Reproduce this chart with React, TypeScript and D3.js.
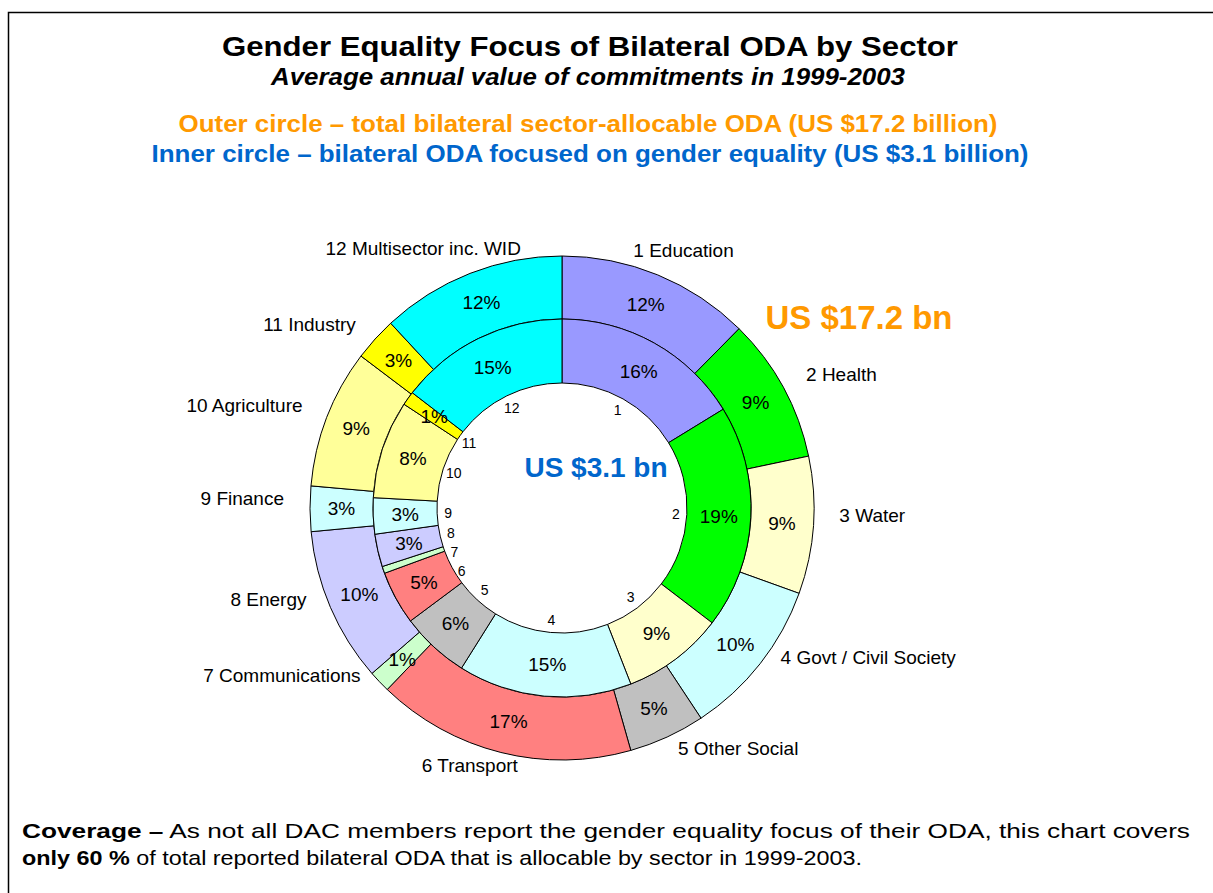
import React from "react";
import * as d3 from "d3";

// ---- Data ----
const sectorNumbers = ["1", "2", "3", "4", "5", "6", "7", "8", "9", "10", "11", "12"];
const sectorNames = [
  "Education",
  "Health",
  "Water",
  "Govt / Civil Society",
  "Other Social",
  "Transport",
  "Communications",
  "Energy",
  "Finance",
  "Agriculture",
  "Industry",
  "Multisector inc. WID",
];
// Outer circle: share of total bilateral sector-allocable ODA (%)
const totalOdaShare = [12.4, 9.3, 8.8, 10.2, 4.9, 16.6, 1.4, 9.9, 2.9, 8.9, 2.8, 11.9];
// Inner circle: share of bilateral ODA focused on gender equality (%)
const genderOdaShare = [16.3, 19.2, 8.7, 14.9, 5.9, 4.6, 0.6, 2.8, 3.1, 8.4, 1.2, 14.6];
const sectorColors = [
  "#9999FF",
  "#00FF00",
  "#FFFFCC",
  "#CCFFFF",
  "#C0C0C0",
  "#FF8080",
  "#CCFFCC",
  "#CCCCFF",
  "#CCFFFF",
  "#FFFF99",
  "#FFFF00",
  "#00FFFF",
];

const titleText = "Gender Equality Focus of Bilateral ODA by Sector";
const subtitleText = "Average annual value of commitments in 1999-2003";
const outerNote = "Outer circle \u2013 total bilateral sector-allocable ODA (US $17.2 billion)";
const innerNote = "Inner circle \u2013 bilateral ODA focused on gender equality (US $3.1 billion)";
const outerTotal = "US $17.2 bn";
const innerTotal = "US $3.1 bn";

const FONT = "'Liberation Sans', Arial, Helvetica, sans-serif";

export default function App() {
  const W = 1213;
  const H = 893;
  const cx = 562;
  const cy = 508;
  const rHole = 125;
  const rMid = 189;
  const rOuter = 252;

  const pie = d3
    .pie<number>()
    .sort(null)
    .value((d) => d)
    .startAngle(0)
    .endAngle(2 * Math.PI);

  const outerArcs = pie(totalOdaShare);
  const innerArcs = pie(genderOdaShare);

  const outerArc = d3.arc<d3.PieArcDatum<number>>().innerRadius(rMid).outerRadius(rOuter);
  const innerArc = d3.arc<d3.PieArcDatum<number>>().innerRadius(rHole).outerRadius(rMid);

  const fmt = (v: number) => `${Math.round(v)}%`;

  // Outer category labels
  const catLabels = outerArcs.map((a, i) => {
    const m = (a.startAngle + a.endAngle) / 2;
    const s = Math.sin(m);
    const c = Math.cos(m);
    const anchor = s > 0.4 ? "start" : s < -0.4 ? "end" : "middle";
    const x = anchor === "middle" ? cx + s * (s > 0 ? 320 : 380) : cx + s * 278;
    const ry = Math.abs(c) > 0.9 ? (c > 0 ? 268 : 276) : 258;
    const y = cy - 10 - c * ry;
    return { x, y, anchor, text: `${sectorNumbers[i]} ${sectorNames[i]}` };
  });

  // Inner small number labels inside the hole
  const numLabels = innerArcs.map((a, i) => {
    const m = (a.startAngle + a.endAngle) / 2;
    return {
      x: cx + Math.sin(m) * 114,
      y: cy - Math.cos(m) * 112,
      left: Math.sin(m) < 0,
      text: sectorNumbers[i],
    };
  });
  const leftSorted = numLabels.filter((d) => d.left).sort((a, b) => a.y - b.y);
  for (let i = 1; i < leftSorted.length; i++) {
    if (leftSorted[i].y < leftSorted[i - 1].y + 19) leftSorted[i].y = leftSorted[i - 1].y + 19;
  }

  return (
    <svg
      width={W}
      height={H}
      style={{ position: "absolute", left: 0, top: 0, background: "#fff" }}
      fontFamily={FONT}
    >
      <rect x={8.5} y={12.5} width={1400} height={1000} fill="#fff" stroke="#000" strokeWidth={1.5} />

      <text x={590} y={56} textAnchor="middle" fontSize={28} fontWeight="bold" textLength={736} lengthAdjust="spacingAndGlyphs">
        {titleText}
      </text>
      <text x={588} y={85} textAnchor="middle" fontSize={24} fontWeight="bold" fontStyle="italic" textLength={634} lengthAdjust="spacingAndGlyphs">
        {subtitleText}
      </text>
      <text x={588} y={132} textAnchor="middle" fontSize={23} fontWeight="bold" fill="#FF9900" textLength={819} lengthAdjust="spacingAndGlyphs">
        {outerNote}
      </text>
      <text x={590} y={162} textAnchor="middle" fontSize={23} fontWeight="bold" fill="#0066CC" textLength={877} lengthAdjust="spacingAndGlyphs">
        {innerNote}
      </text>

      <g transform={`translate(${cx},${cy})`}>
        {outerArcs.map((a, i) => (
          <path key={`o${i}`} d={outerArc(a) || ""} fill={sectorColors[i]} stroke="#000" strokeWidth={1} />
        ))}
        {innerArcs.map((a, i) => (
          <path key={`i${i}`} d={innerArc(a) || ""} fill={sectorColors[i]} stroke="#000" strokeWidth={1} />
        ))}
        {outerArcs.map((a, i) => {
          if (a.data < 1) return null;
          const [x, y] = outerArc.centroid(a);
          return (
            <text key={`ol${i}`} x={x} y={y} textAnchor="middle" dominantBaseline="central" fontSize={19} fill="#000">
              {fmt(a.data)}
            </text>
          );
        })}
        {innerArcs.map((a, i) => {
          if (a.data < 1) return null;
          const [x, y] = innerArc.centroid(a);
          return (
            <text key={`il${i}`} x={x} y={y} textAnchor="middle" dominantBaseline="central" fontSize={19} fill="#000">
              {fmt(a.data)}
            </text>
          );
        })}
      </g>

      {numLabels.map((d, i) => (
        <text key={`n${i}`} x={d.x} y={d.y} textAnchor="middle" dominantBaseline="central" fontSize={14} fill="#000">
          {d.text}
        </text>
      ))}

      {catLabels.map((d, i) => (
        <text key={`c${i}`} x={d.x} y={d.y} textAnchor={d.anchor} dominantBaseline="central" fontSize={19} fill="#000">
          {d.text}
        </text>
      ))}

      <text x={859} y={329} textAnchor="middle" fontSize={33} fontWeight="bold" fill="#FF9900">
        {outerTotal}
      </text>
      <text x={596} y={477} textAnchor="middle" fontSize={28} fontWeight="bold" fill="#0066CC">
        {innerTotal}
      </text>

      <text x={22} y={838} fontSize={21} fill="#000" textLength={1168} lengthAdjust="spacingAndGlyphs">
        <tspan fontWeight="bold">{"Coverage \u2013"}</tspan>
        <tspan>{"  As not all DAC members report the gender equality focus of their ODA, this chart covers"}</tspan>
      </text>
      <text x={22} y={865} fontSize={21} fill="#000" textLength={840} lengthAdjust="spacingAndGlyphs">
        <tspan fontWeight="bold">only 60 %</tspan>
        <tspan>{" of total reported bilateral ODA that is allocable by sector in 1999-2003."}</tspan>
      </text>
    </svg>
  );
}
